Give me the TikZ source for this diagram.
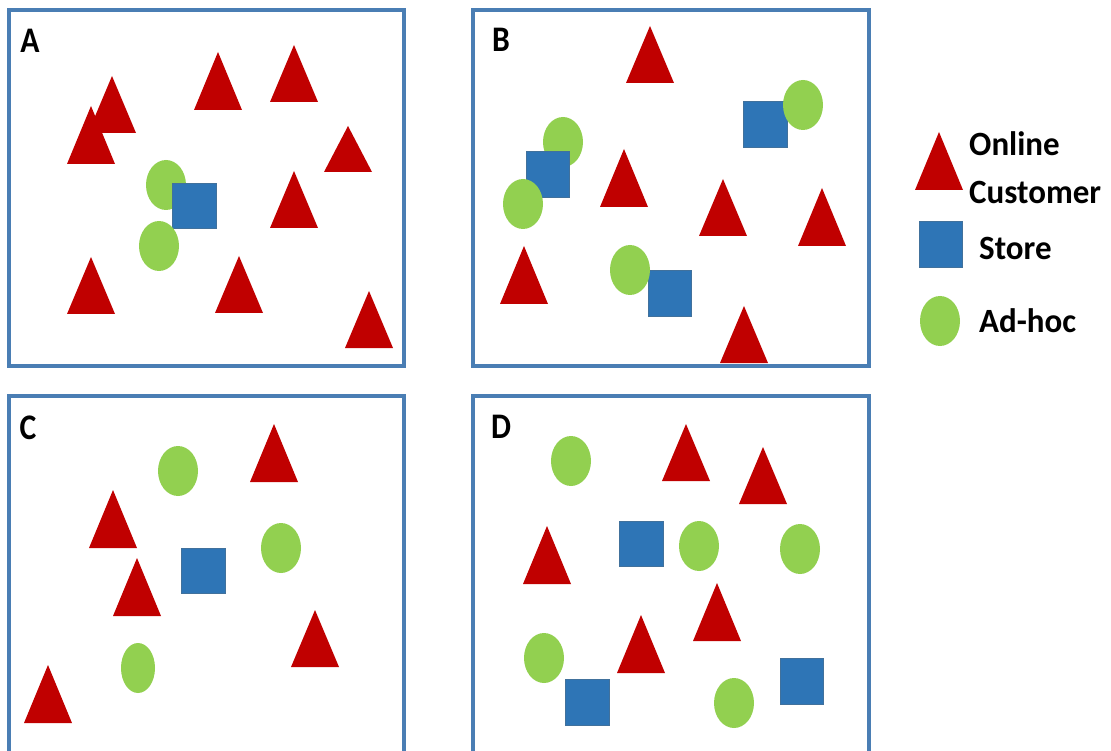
\documentclass[tikz,border=0pt]{standalone}
\usepackage{fontspec}
\setmainfont{Carlito}
\definecolor{frameblue}{RGB}{74,126,180}
\definecolor{custred}{RGB}{192,0,0}
\definecolor{storeblue}{RGB}{46,117,182}
\definecolor{storeedge}{RGB}{65,113,156}
\definecolor{adgreen}{RGB}{146,208,80}
\tikzset{
  panel/.style={draw=frameblue,line width=3.5pt},
  custshape/.style={fill=custred},
  storeshape/.style={fill=storeblue,draw=storeedge,line width=0.8pt},
  adshape/.style={fill=adgreen},
  panlabel/.style={font=\fontsize{36}{36}\selectfont\bfseries,xscale=0.88,inner sep=0pt},
  legtext/.style={font=\fontsize{34}{34}\selectfont\bfseries,xscale=0.97,inner sep=0pt,anchor=west}
}
\newcommand{\custtri}[3]{\fill[custshape] (#1-24,#3) -- (#1+24,#3) -- (#1,#2) -- cycle;}
\newcommand{\storesq}[4]{\filldraw[storeshape] (#1,#2) rectangle (#3,#4);}
\newcommand{\adhoc}[4]{\fill[adshape] (#1,#2) ellipse [x radius=#3, y radius=#4];}
\begin{document}
\begin{tikzpicture}[x=1pt,y=-1pt]
\useasboundingbox (0,0) rectangle (1111,751);
\clip (0,0) rectangle (1111,751);
\fill[white] (0,0) rectangle (1111,751);
% frames
\draw[panel] (9,10) rectangle (404,366);
\draw[panel] (473,10) rectangle (869,366);
\draw[panel] (9,396) rectangle (404,770);
\draw[panel] (473,396) rectangle (869,770);
% labels
\node[panlabel] (la) at (30,41) {A};
\node[panlabel] (lb) at (501,40) {B};
\node[panlabel] (lc) at (28,428) {C};
\node[panlabel] (ld) at (501,427) {D};
% Panel A
\custtri{112}{76}{133}
\custtri{91}{106}{164}
\custtri{218}{52}{110}
\custtri{294}{45}{102}
\custtri{348}{126}{172}
\custtri{294}{171}{228}
\custtri{91}{257}{314}
\custtri{239}{256}{313}
\custtri{369}{291}{348}
\adhoc{166}{185}{20}{25}
\storesq{172}{183}{216}{228}
\adhoc{159}{246}{20}{25}
% Panel B
\custtri{650}{26}{83}
\custtri{624}{149}{207}
\custtri{723}{179}{236}
\custtri{822}{188}{246}
\custtri{524}{246}{304}
\custtri{744}{306}{363}
\storesq{743}{101}{787}{147}
\adhoc{803}{105}{20}{25}
\adhoc{563}{142}{20}{25}
\storesq{526}{151}{569}{197}
\adhoc{523}{204}{20}{25}
\storesq{648}{270}{691}{316}
\adhoc{630}{270}{20}{25}
% Panel C
\custtri{274}{424}{482}
\custtri{113}{490}{548}
\custtri{137}{558}{616}
\custtri{315}{610}{667}
\custtri{48}{665}{723}
\adhoc{178}{471}{20}{25}
\adhoc{281}{548}{20}{25}
\adhoc{138}{668}{17}{25}
\storesq{181}{548}{225}{593}
% Panel D
\custtri{686}{424}{481}
\custtri{763}{447}{504}
\custtri{547}{526}{584}
\custtri{717}{583}{641}
\custtri{641}{615}{673}
\storesq{619}{521}{663}{566}
\storesq{565}{679}{609}{725}
\storesq{780}{658}{823}{704}
\adhoc{571}{461}{20}{25}
\adhoc{699}{546}{20}{25}
\adhoc{800}{549}{20}{25}
\adhoc{544}{658}{20}{25}
\adhoc{734}{703}{20}{25}
% Legend
\custtri{939}{132}{190}
\storesq{919}{221}{962}{267}
\adhoc{940}{321}{20}{25}
\node[legtext] (online) at (969,144) {Online};
\node[legtext] (customer) at (969,192) {Customer};
\node[legtext] (store) at (979,248) {Store};
\node[legtext] (adhoctext) at (979,321) {Ad-hoc};
\end{tikzpicture}
\end{document}
